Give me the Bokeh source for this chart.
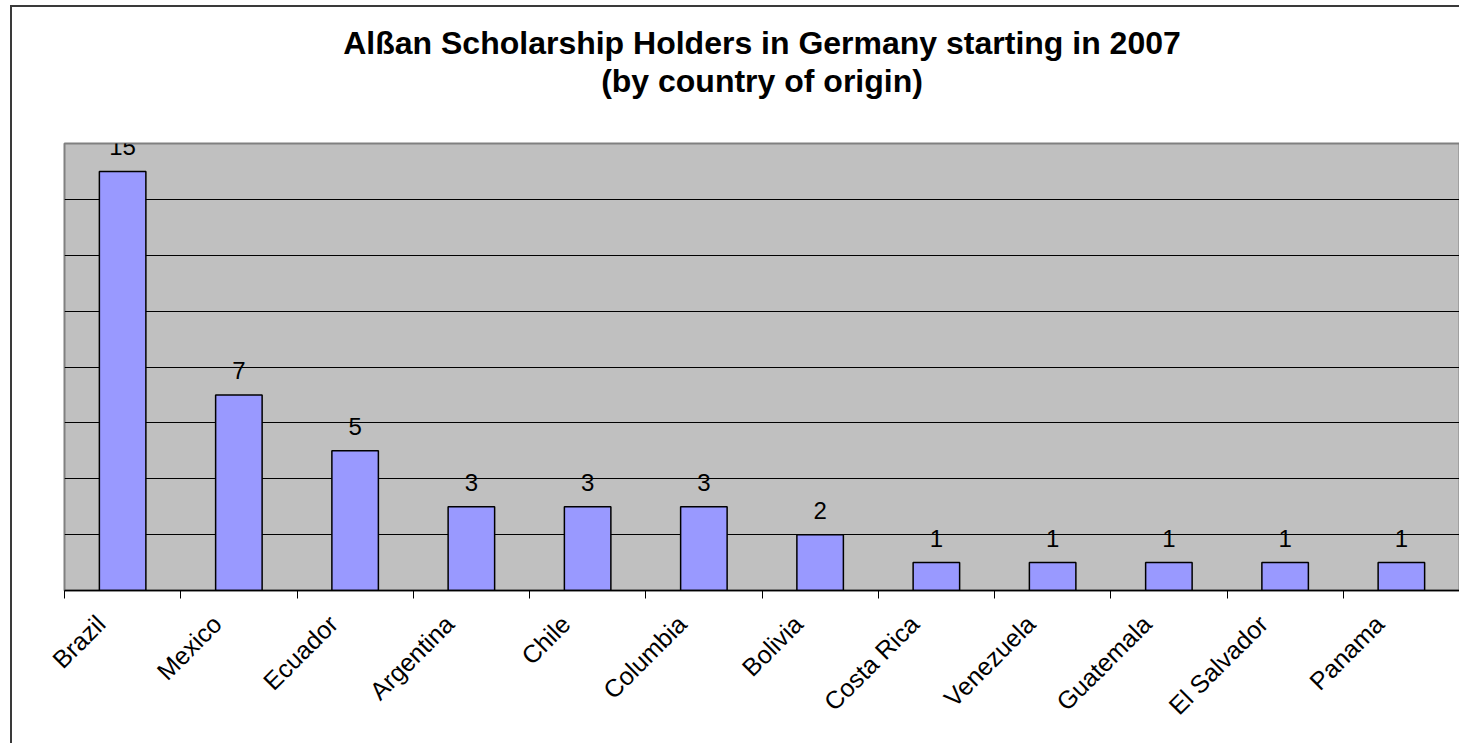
import math
from bokeh.plotting import figure
from bokeh.models import (ColumnDataSource, FixedTicker, SingleIntervalTicker,
                          LinearAxis, Range1d, LabelSet, Grid, Title)
from bokeh.core.properties import value
from bokeh.embed import file_html
from bokeh.resources import INLINE

countries = ["Brazil", "Mexico", "Ecuador", "Argentina", "Chile", "Columbia",
             "Bolivia", "Costa Rica", "Venezuela", "Guatemala", "El Salvador", "Panama"]
holders = [15, 7, 5, 3, 3, 3, 2, 1, 1, 1, 1, 1]
title_line1 = "Alßan Scholarship Holders in Germany starting in 2007"
title_line2 = "(by country of origin)"

FONT = "Liberation Sans"
n = len(countries)
xs = [i + 0.5 for i in range(n)]
src = ColumnDataSource(dict(x=xs, y=holders, lab=[str(v) for v in holders]))

p = figure(width=1449, height=738, output_backend="svg", toolbar_location=None,
           x_range=Range1d(0, n), y_range=Range1d(0, 16),
           x_axis_type=None, y_axis_type=None,
           min_border_left=52, min_border_right=2, min_border_top=136,
           min_border_bottom=155)
p.margin = (5, 0, 0, 10)
p.styles = {"border-left": "2px solid #3a3a3a", "border-top": "2px solid #3a3a3a"}

# two-line centred title; a tiny blank title acts as spacer next to the plot
title_kw = dict(align="center", text_font=FONT, text_font_size="32px",
                text_font_style="bold", text_color="black", standoff=0)
spacer = Title(text=" ", text_font_size="1px", standoff=42)
t2 = Title(text=title_line2, **title_kw)
p.add_layout(spacer, "above")
p.add_layout(t2, "above")
p.title.text = title_line1
for k, v in title_kw.items():
    setattr(p.title, k, v)

p.background_fill_color = "#C0C0C0"
p.border_fill_color = "white"
p.outline_line_color = "#808080"
p.outline_line_width = 2

# horizontal grid every 2 units
yticker = SingleIntervalTicker(interval=2)
p.add_layout(Grid(dimension=1, ticker=yticker, grid_line_color="black",
                  grid_line_width=1))

# x axis: tick marks at category boundaries, rotated labels under each category
label_pos = [x - 0.1875 for x in xs]
xticker = FixedTicker(ticks=label_pos, minor_ticks=list(range(n + 1)))
xaxis = LinearAxis(ticker=xticker)
xaxis.major_label_overrides = {lp: c for lp, c in zip(label_pos, countries)}
xaxis.major_label_orientation = math.pi / 4
xaxis.major_label_text_font = FONT
xaxis.major_label_text_font_size = "25px"
xaxis.major_label_text_color = "black"
xaxis.major_label_standoff = 21
xaxis.major_tick_out = 0
xaxis.major_tick_in = 0
xaxis.minor_tick_out = 8
xaxis.minor_tick_in = 0
xaxis.minor_tick_line_color = "black"
xaxis.minor_tick_line_width = 1
xaxis.axis_line_color = "black"
xaxis.axis_line_width = 1.5
p.add_layout(xaxis, "below")

p.vbar(x="x", top="y", width=0.4, source=src, fill_color="#9999FF",
       line_color="black", line_width=1.5)

labels = LabelSet(x="x", y="y", text="lab", source=src, text_align="center",
                  text_baseline="alphabetic", y_offset=16,
                  text_font=value(FONT), text_font_size="24px",
                  text_color="black")
p.add_layout(labels)

open("out.html", "w").write(file_html(p, INLINE))
